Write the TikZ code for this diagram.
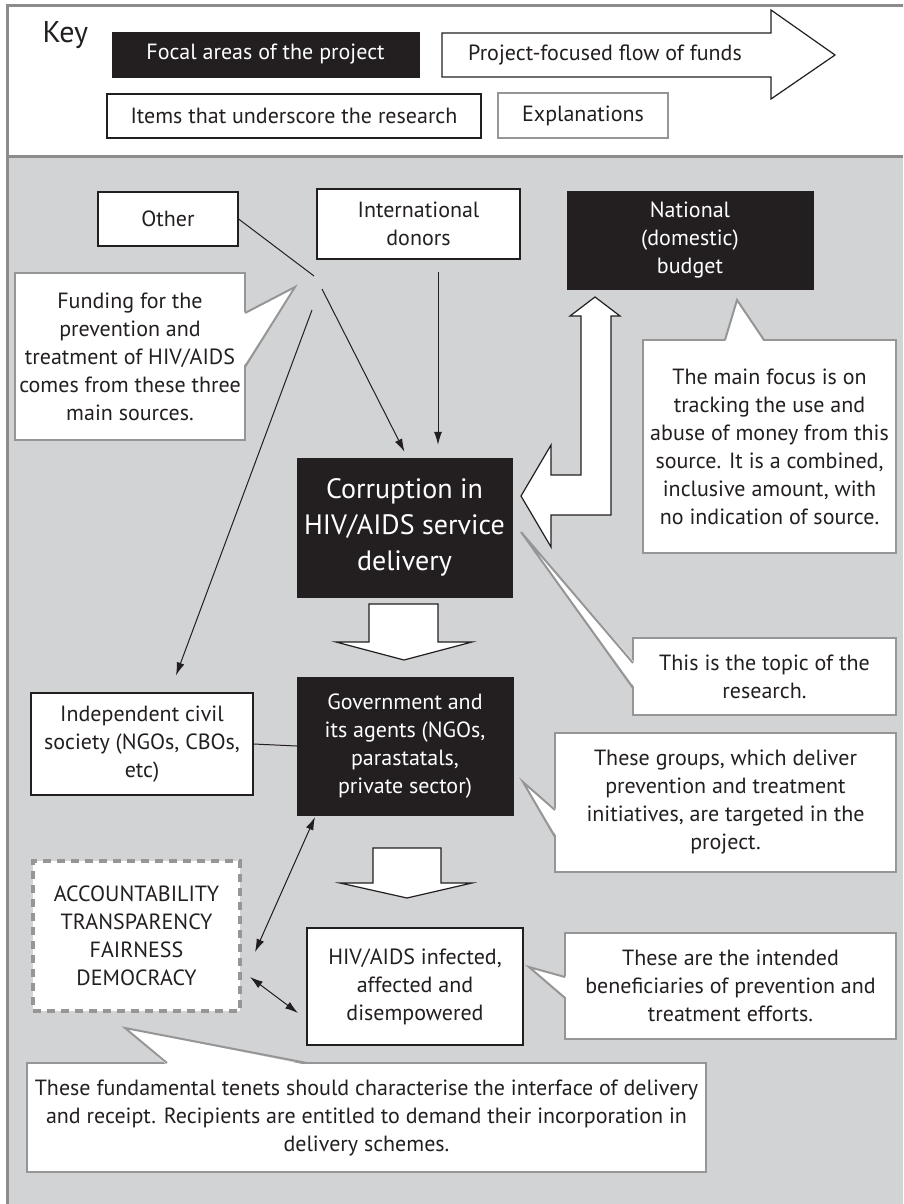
\documentclass[tikz,border=0pt]{standalone}
\usepackage{fontspec}
\setmainfont{PT Sans}
\usetikzlibrary{arrows.meta}
\definecolor{boxblack}{RGB}{35,31,32}
\definecolor{panelgray}{RGB}{210,211,213}
\definecolor{framegray}{RGB}{140,140,140}
\definecolor{notegray}{RGB}{150,150,150}
\tikzset{every node/.style={font=\fontsize{22}{28}\selectfont,text=boxblack},
         focal/.style={draw=boxblack,fill=boxblack,text=white,inner sep=0pt,align=center},
         item/.style={draw=boxblack,line width=1.2pt,fill=white,inner sep=0pt,align=center},
         note/.style={draw=notegray,line width=2pt,fill=white,inner sep=0pt,align=center},
         notetip/.style={draw=notegray,line width=2pt},
         dashedbox/.style={draw=notegray,line width=4.5pt,dash pattern=on 8pt off 6pt,fill=white,inner sep=0pt,align=center},
         fatarrow/.style={draw=boxblack,line width=1.2pt,fill=white,line join=miter},
         link/.style={draw=boxblack,line width=1pt},
         flow/.style={link,-{Latex[length=13pt,width=8pt]}},
         mutual/.style={link,{Latex[length=13pt,width=8pt]}-{Latex[length=13pt,width=8pt]}},
         }

\begin{document}
\begin{tikzpicture}[x=1pt,y=-1pt]
	\useasboundingbox (0,0) rectangle (903,1204);
	\fill[panelgray] (7,156) rectangle (903,1204);
	\draw[framegray,line width=3pt] (903,6) -- (7,6) -- (7,1204) (7,156) -- (903,156);

	\node[anchor=west,font=\fontsize{30}{34}\selectfont] (key) at (39,35) {Key};
	\node[focal,minimum width=307pt,minimum height=45pt] (keyfocal) at (265.5,54.5) {Focal areas of the project};
	\draw[fatarrow] (442,33) -- (771,33) -- (771,10) -- (835,55) -- (771,99) -- (771,77) -- (442,77) -- cycle;
	\node (keyflow) at (605,55) {Project-focused flow of funds};
	\node[item,minimum width=374pt,minimum height=44pt] (keyitem) at (294,116) {Items that underscore the research};
	\node[note,minimum width=170pt,minimum height=45pt] (keynote) at (583,115.5) {Explanations};

	\node[item,minimum width=140pt,minimum height=54pt] (other) at (168,219) {Other};
	\node[item,minimum width=203pt,minimum height=70pt] (donors) at (418.5,224) {International\\donors};
	\node[focal,minimum width=246pt,minimum height=98pt] (national) at (690,240) {National\\(domestic)\\budget};
	\node[note,minimum width=230pt,minimum height=167pt] (funding) at (130,356.5) {Funding for the\\prevention and\\treatment of HIV/AIDS\\comes from these three\\main sources.};
	\node[focal,minimum width=215pt,minimum height=139pt,font=\fontsize{28}{36}\selectfont] (corruption) at (404.5,527.5) {Corruption in\\HIV/AIDS service\\delivery};
	\node[note,minimum width=253pt,minimum height=213pt] (focus) at (769.5,446.5) {The main focus is on\\tracking the use and\\abuse of money from this\\source. It is a combined,\\inclusive amount, with\\no indication of source.};
	\node[note,minimum width=263pt,minimum height=77pt] (topic) at (764.5,676.5) {This is the topic of the\\research.};
	\node[item,minimum width=222pt,minimum height=102pt] (civil) at (142,744) {Independent civil\\society (NGOs, CBOs,\\etc)};
	\node[focal,minimum width=216pt,minimum height=138pt] (govt) at (405,746) {Government and\\its agents (NGOs,\\parastatals,\\private sector)};
	\node[note,minimum width=341pt,minimum height=139pt] (groups) at (725.5,802.5) {These groups, which deliver\\prevention and treatment\\initiatives, are targeted in the\\project.};
	\node[dashedbox,minimum width=207pt,minimum height=150pt] (tenets) at (136.5,936) {ACCOUNTABILITY\\TRANSPARENCY\\FAIRNESS\\DEMOCRACY};
	\node[item,minimum width=216pt,minimum height=117pt] (infected) at (415,986.5) {HIV/AIDS infected,\\affected and\\disempowered};
	\node[note,minimum width=331pt,minimum height=106pt] (beneficiaries) at (730.5,986) {These are the intended\\beneficiaries of prevention and\\treatment efforts.};
	\node[note,minimum width=679pt,minimum height=109pt] (interface) at (366.5,1117.5) {These fundamental tenets should characterise the interface of delivery\\and receipt. Recipients are entitled to demand their incorporation in\\delivery schemes.};

	\draw[fatarrow] (521,496) -- (551,445) -- (551,475) -- (581,475) -- (581,316) -- (570,316) -- (595,297) -- (620,316) -- (611,316) -- (611,515) -- (551,515) -- (551,547) -- cycle;
	\draw[fatarrow] (369,604) -- (438,604) -- (438,642) -- (472,642) -- (404,660) -- (336,642) -- (369,642) -- cycle;
	\draw[fatarrow] (373,848) -- (441,848) -- (441,883) -- (472,883) -- (407,898) -- (340,883) -- (373,883) -- cycle;

	\fill[white] (243,313) -- (295,287) -- (243,367) -- cycle;
	\draw[notetip] (245,313) -- (295,287) -- (245,367);
	\fill[white] (725,342) -- (737,300) -- (764,342) -- cycle;
	\draw[notetip] (725,340) -- (737,300) -- (764,340);
	\fill[white] (635,663) -- (521,532) -- (635,688) -- cycle;
	\draw[notetip] (633,663) -- (521,532) -- (633,688);
	\fill[white] (557,810) -- (523,782) -- (557,837) -- cycle;
	\draw[notetip] (555,810) -- (523,782) -- (555,837);
	\fill[white] (567,977) -- (529,967) -- (567,998) -- cycle;
	\draw[notetip] (565,977) -- (529,967) -- (565,998);
	\fill[white] (167,1065) -- (125,1028) -- (307,1065) -- cycle;
	\draw[notetip] (167,1063) -- (125,1028) -- (307,1063);

	\coordinate (split) at (314,276);
	\coordinate (splitdown) at (322,289);
	\coordinate (splitleft) at (312,310);
	\coordinate (govtfoot) at (315,817);
	\coordinate (tenetsside) at (255,952);
	\coordinate (tenetscorner) at (250,977);
	\coordinate (infectedside) at (298,1013);
	\draw[link] (other.east) -- (split);
	\draw[flow] (splitdown) -- ([yshift=6pt]corruption.north);
	\draw[flow] ([xshift=19.5pt,yshift=-12pt]donors.south) -- ([xshift=33.5pt,yshift=13pt]corruption.north);
	\draw[flow] (splitleft) -- ([xshift=34pt,yshift=17pt]civil.north);
	\draw[link] (civil.east) -- (govt.west);
	\draw[mutual] (govtfoot) -- (tenetsside);
	\draw[mutual] (tenetscorner) -- (infectedside);
\end{tikzpicture}
\end{document}
